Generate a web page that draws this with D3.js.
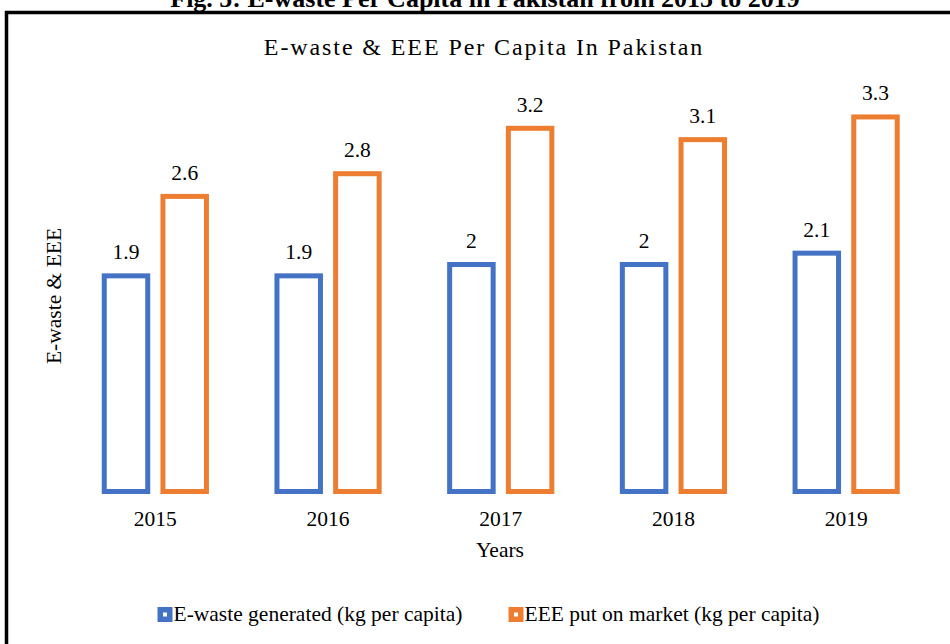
<!DOCTYPE html>
<html><head><meta charset="utf-8">
<script src="https://cdn.jsdelivr.net/npm/d3@7"></script>
<style>body{margin:0;background:#fff}svg{display:block}text{font-family:"Liberation Serif","Times New Roman",serif;fill:#000}</style>
</head><body>
<svg id="c" width="950" height="644"></svg>
<script>
const years = ["2015","2016","2017","2018","2019"];
const ewaste = [1.9, 1.9, 2, 2, 2.1];
const eee = [2.6, 2.8, 3.2, 3.1, 3.3];
const seriesNames = ["E-waste generated (kg per capita)", "EEE put on market (kg per capita)"];
const colors = ["#4472C4", "#ED7D31"];

const svg = d3.select("#c");
// outer frame
svg.append("rect").attr("x",6.5).attr("y",12.5).attr("width",1000).attr("height",700)
  .attr("fill","none").attr("stroke","#000").attr("stroke-width",3.5);
// caption (cut off at top, as in the reference)
svg.append("text").attr("x",485).attr("y",6.5).attr("text-anchor","middle")
  .attr("font-weight","bold").attr("font-size",26)
  .text("Fig. 5: E-waste Per Capita in Pakistan from 2015 to 2019");

svg.append("text").attr("x",484).attr("y",55).attr("text-anchor","middle")
  .attr("font-size",24).attr("letter-spacing",1.9)
  .text("E-waste & EEE Per Capita In Pakistan");

const x = d3.scaleBand().domain(years).range([69, 932.5]);
const y = d3.scaleLinear().domain([0, 3.5]).range([491.5, 491.5 - 3.5*113.5]);
const bw = 43.5, off = 29.35;
const fs = 21.5;

const series = [ewaste, eee];
series.forEach((vals, si) => {
  const g = svg.append("g");
  years.forEach((yr, i) => {
    const cx = x(yr) + x.bandwidth()/2 + (si === 0 ? -off : off);
    g.append("rect").attr("x", cx - bw/2).attr("y", y(vals[i]))
      .attr("width", bw).attr("height", y(0) - y(vals[i]))
      .attr("fill","#fff").attr("stroke", colors[si]).attr("stroke-width",5);
    g.append("text").attr("x", cx).attr("y", y(vals[i]) - 16.5)
      .attr("text-anchor","middle").attr("font-size",fs).text(vals[i]);
  });
});

// x axis labels
const xAxis = d3.axisBottom(x).tickSize(0).tickPadding(0);
const ax = svg.append("g").attr("transform","translate(0,505)").call(xAxis);
ax.select(".domain").remove();
ax.selectAll("text").attr("font-size",fs).attr("dy",0).attr("y",21)
  .style("font-family",'"Liberation Serif","Times New Roman",serif').attr("fill","#000");

svg.append("text").attr("x",500).attr("y",557).attr("text-anchor","middle")
  .attr("font-size",fs).text("Years");
svg.append("text").attr("transform","translate(61,296) rotate(-90)")
  .attr("text-anchor","middle").attr("font-size",fs).text("E-waste & EEE");

// legend
const legX = [157.5, 508.5];
seriesNames.forEach((n, i) => {
  const lg = svg.append("g").attr("transform",`translate(${legX[i]},607)`);
  lg.append("rect").attr("width",15).attr("height",15).attr("fill",colors[i]);
  lg.append("rect").attr("x",5.5).attr("y",5.5).attr("width",4).attr("height",4).attr("fill","#fff");
  lg.append("text").attr("x",16).attr("y",14).attr("font-size",fs).text(n);
});
</script>
</body></html>
